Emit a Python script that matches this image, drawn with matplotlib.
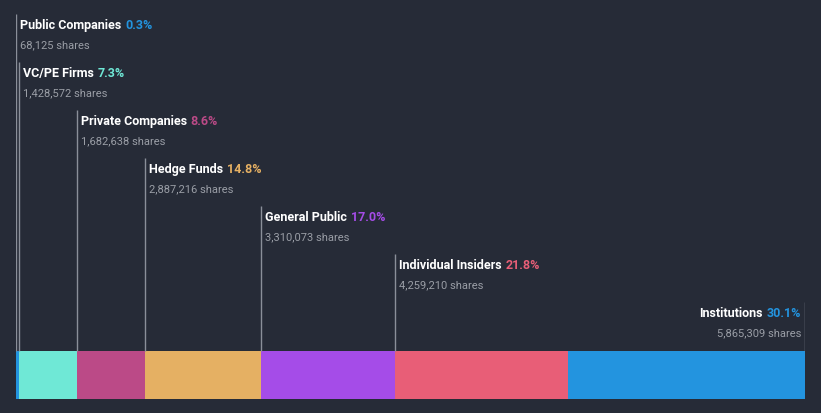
import numpy as np
import matplotlib.pyplot as plt
from matplotlib import transforms

# ownership breakdown
categories = ['Public Companies', 'VC/PE Firms', 'Private Companies', 'Hedge Funds',
              'General Public', 'Individual Insiders', 'Institutions']
shares = [68125, 1428572, 1682638, 2887216, 3310073, 4259210, 5865309]
percents = [0.3, 7.3, 8.6, 14.8, 17.0, 21.8, 30.1]
colors = ['#2394df', '#6fe8d6', '#bb4a87', '#e5b063', '#a54ce8', '#e85e77', '#2394df']

bg = '#262b37'
W, H = 821, 414
fig = plt.figure(figsize=(W / 100, H / 100), dpi=100, facecolor=bg)
ax = fig.add_axes([16 / W, 0, 789 / W, 1])
ax.set_facecolor(bg)
ax.axis('off')

total = sum(shares)
lefts = np.concatenate([[0], np.cumsum(shares)[:-1]])
ax.set_xlim(0, total)
ax.set_ylim(H, 0)  # y in pixels from top

ax.barh(376, shares, left=lefts, height=48, color=colors, linewidth=0)

plt.rcParams['font.family'] = ['Roboto', 'DejaVu Sans']
line_col = '#8a8f99'
n = len(categories)
for i, (cat, sh, pc, col, lft) in enumerate(zip(categories, shares, percents, colors, lefts)):
    last = i == n - 1
    xline = total if last else lft
    top = 15 + 48 * i
    ax.plot([xline, xline], [352, top], color=line_col, lw=1, solid_capstyle='butt')
    dx = -4 if last else 4
    tr = transforms.offset_copy(ax.transData, fig=fig, x=dx, y=0, units='dots')
    ha = 'right' if last else 'left'
    ax.text(xline, 48 + 48 * i, f'{sh:,} shares', transform=tr, ha=ha, va='baseline',
            fontsize=8, color='#9a9ea6')
    if not last:
        t = ax.text(xline, 29 + 48 * i, cat, transform=tr, ha='left', va='baseline',
                    fontsize=9, fontweight='bold', color='white')
        ax.annotate(f'{pc:.1f}%', xy=(1, 0), xycoords=t, xytext=(2.8, 0),
                    textcoords='offset points', ha='left', va='bottom',
                    fontsize=9, fontweight='bold', color=col)
    else:
        t = ax.text(xline, 29 + 48 * i, f'{pc:.1f}%', transform=tr, ha='right', va='baseline',
                    fontsize=9, fontweight='bold', color=col)
        ax.annotate(cat, xy=(0, 0), xycoords=t, xytext=(-2.8, 0),
                    textcoords='offset points', ha='right', va='bottom',
                    fontsize=9, fontweight='bold', color='white')

fig.savefig('out.png', dpi=100, facecolor=bg)
